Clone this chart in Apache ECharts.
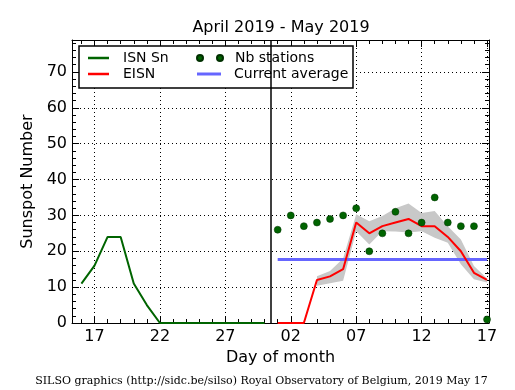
<!DOCTYPE html>
<html><head><meta charset="utf-8">
<script src="https://cdn.jsdelivr.net/npm/echarts@6/dist/echarts.min.js"></script>
<style>html,body{margin:0;padding:0;background:#fff}#c{width:515px;height:390px}</style>
</head><body><div id="c"></div>
<script>
// ---------- data ----------
const isnDates = ['2019-04-16','2019-04-17','2019-04-18','2019-04-19','2019-04-20','2019-04-21','2019-04-22','2019-04-23','2019-04-24','2019-04-25','2019-04-26','2019-04-27','2019-04-28','2019-04-29','2019-04-30'];
const isnValues = [11,16,24,24,11,5,0,0,0,0,0,0,0,0,0];

const mayDates = ['2019-05-01','2019-05-02','2019-05-03','2019-05-04','2019-05-05','2019-05-06','2019-05-07','2019-05-08','2019-05-09','2019-05-10','2019-05-11','2019-05-12','2019-05-13','2019-05-14','2019-05-15','2019-05-16','2019-05-17'];
const eisnValues = [0,0,0,12,13,15,28,25,27,28,29,27,27,24,20,14,12];
const stationValues = [26,30,27,28,29,30,32,20,25,31,25,28,35,28,27,27,1];

const bandDates = ['2019-05-04','2019-05-05','2019-05-06','2019-05-07','2019-05-08','2019-05-09','2019-05-10','2019-05-11','2019-05-12','2019-05-13','2019-05-14','2019-05-15','2019-05-16','2019-05-17'];
const bandUpper = [13,14.5,18,30.3,28.4,29.8,32,33.3,30.7,31.2,27,23.3,15.9,12.4];
const bandLower = [10.4,11.1,11.8,25.6,21.9,25.6,25.5,25.2,25.6,23.8,22.4,16.4,12.2,11.3];

const averageDates = ['2019-05-01','2019-05-17'];
const averageValue = 17.7;

const dividerDate = '2019-04-30T12:00Z';

const xTickDates = ['2019-04-17','2019-04-22','2019-04-27','2019-05-02','2019-05-07','2019-05-12','2019-05-17'];
const xTickLabels = ['17','22','27','02','07','12','17'];
const yTickValues = [0,10,20,30,40,50,60,70];

// ---------- helpers ----------
const DAY0 = Date.parse('2019-04-17T00:00Z');
function dayIndex(d){ return (Date.parse(d.length === 10 ? d + 'T00:00Z' : d) - DAY0) / 86400000; }

const X_MIN = -1.72, X_MAX = 30.15, Y_MIN = 0, Y_MAX = 78.9;
const xTickPos = xTickDates.map(dayIndex);
const xMinor = []; for (let v = Math.ceil(X_MIN); v <= Math.floor(X_MAX); v++) xMinor.push(v);
const yMinor = []; for (let v = 0; v <= Y_MAX; v += 2) yMinor.push(v);

const FONT = 'DejaVu Sans';
const dotted = { show: true, lineStyle: { color: '#000', width: 1, type: [1, 3] } };

function xAxisDef(pos, major, withLabels) {
  return {
    type: 'value', position: pos, min: X_MIN, max: X_MAX,
    axisLine: { show: major, onZero: false, lineStyle: { color: '#000', width: 1 } },
    axisTick: { show: true, inside: true, length: major ? 7 : 4, lineStyle: { color: '#000' },
                customValues: major ? xTickPos : xMinor },
    axisLabel: { show: withLabels, customValues: xTickPos, margin: 6, color: '#000',
                 fontFamily: FONT, fontSize: 16,
                 formatter: v => { const i = xTickPos.findIndex(p => Math.abs(p - v) < 1e-6); return i >= 0 ? xTickLabels[i] : ''; } },
    splitLine: (major && withLabels) ? dotted : { show: false },
    name: withLabels ? 'Day of month' : '', nameLocation: 'middle', nameGap: 26,
    nameTextStyle: { color: '#000', fontFamily: FONT, fontSize: 16 }
  };
}
function yAxisDef(pos, major, withLabels) {
  return {
    type: 'value', position: pos, min: Y_MIN, max: Y_MAX,
    axisLine: { show: major, onZero: false, lineStyle: { color: '#000', width: 1 } },
    axisTick: { show: true, inside: true, length: major ? 7 : 4, lineStyle: { color: '#000' },
                customValues: major ? yTickValues : yMinor },
    axisLabel: { show: withLabels, customValues: yTickValues, margin: 5, color: '#000',
                 fontFamily: FONT, fontSize: 16 },
    splitLine: (major && withLabels) ? dotted : { show: false },
    name: withLabels ? 'Sunspot Number' : '', nameLocation: 'middle', nameGap: 30, nameRotate: 90,
    nameTextStyle: { color: '#000', fontFamily: FONT, fontSize: 16 }
  };
}

const dotsIcon = 'path://M0,3a3,3 0 1,0 6,0a3,3 0 1,0 -6,0ZM20,3a3,3 0 1,0 6,0a3,3 0 1,0 -6,0Z';
const legendText = { color: '#000', fontFamily: FONT, fontSize: 14, lineHeight: 14 };
function legendDef(name, icon, left, top, w, h, gap) {
  return { data: [{ name: name, icon: icon }], orient: 'vertical', left: left, top: top, padding: 0,
           itemWidth: w, itemHeight: h, selectedMode: false, z: 5,
           textStyle: Object.assign({ padding: [0, 0, 0, gap] }, legendText) };
}

const option = {
  animation: false,
  backgroundColor: '#fff',
  title: { text: 'April 2019 - May 2019', left: 281, top: 20, textAlign: 'center', padding: 0,
           textStyle: { color: '#000', fontFamily: FONT, fontSize: 16, fontWeight: 'normal' } },
  grid: { left: 72, right: 26, top: 40, bottom: 67, containLabel: false },
  xAxis: [ xAxisDef('bottom', true, true), xAxisDef('bottom', false, false),
           xAxisDef('top', true, false), xAxisDef('top', false, false) ],
  yAxis: [ yAxisDef('left', true, true), yAxisDef('left', false, false),
           yAxisDef('right', true, false), yAxisDef('right', false, false) ],
  legend: [
    legendDef('ISN Sn', 'rect', 88, 51, 21, 2.5, 9),
    legendDef('EISN', 'rect', 88, 67, 21, 2.5, 9),
    legendDef('Nb stations', dotsIcon, 196, 51, 26, 6, 7),
    legendDef('Current average', 'rect', 197, 67, 24, 3, 8)
  ],
  graphic: [
    { type: 'rect', z: 3, shape: { x: 79, y: 46, width: 274, height: 42 },
      style: { fill: '#fff', stroke: '#000', lineWidth: 1.5 } },
    { type: 'text', z: 3, x: 261.5, y: 381,
      style: { text: 'SILSO graphics (http://sidc.be/silso) Royal Observatory of Belgium, 2019 May 17',
               fill: '#000', font: '11px "DejaVu Serif"', align: 'center', verticalAlign: 'middle' } }
  ],
  series: [
    { name: 'band', type: 'custom', z: 1, silent: true,
      data: bandDates.map((d, i) => [dayIndex(d), bandLower[i], bandUpper[i]]),
      renderItem: (params, api) => {
        if (params.dataIndex !== 0) return null;
        const up = bandDates.map((d, i) => api.coord([dayIndex(d), bandUpper[i]]));
        const lo = bandDates.map((d, i) => api.coord([dayIndex(d), bandLower[i]])).reverse();
        return { type: 'polygon', shape: { points: up.concat(lo) }, style: { fill: '#c8c8c8', stroke: null } };
      } },
    { name: 'Current average', type: 'line', z: 3, symbol: 'none',
      data: averageDates.map(d => [dayIndex(d), averageValue]),
      lineStyle: { color: '#6666ff', width: 3 }, itemStyle: { color: '#6666ff' } },
    { name: 'ISN Sn', type: 'line', z: 4, symbol: 'none',
      data: isnDates.map((d, i) => [dayIndex(d), isnValues[i]]),
      lineStyle: { color: '#006400', width: 2 }, itemStyle: { color: '#006400' },
      markLine: { silent: true, symbol: 'none', label: { show: false },
                  lineStyle: { color: '#000', width: 1.5, type: 'solid' },
                  data: [{ xAxis: dayIndex(dividerDate) }] } },
    { name: 'EISN', type: 'line', z: 5, symbol: 'none',
      data: mayDates.map((d, i) => [dayIndex(d), eisnValues[i]]),
      lineStyle: { color: '#ff0000', width: 2 }, itemStyle: { color: '#ff0000' } },
    { name: 'Nb stations', type: 'scatter', z: 6, symbol: 'circle', symbolSize: 7,
      data: mayDates.map((d, i) => [dayIndex(d), stationValues[i]]),
      itemStyle: { color: '#006400', borderColor: '#003000', borderWidth: 0.5, opacity: 1 } }
  ]
};

const chart = echarts.init(document.getElementById('c'), null, { renderer: 'canvas' });
chart.setOption(option);
</script>
</body></html>
